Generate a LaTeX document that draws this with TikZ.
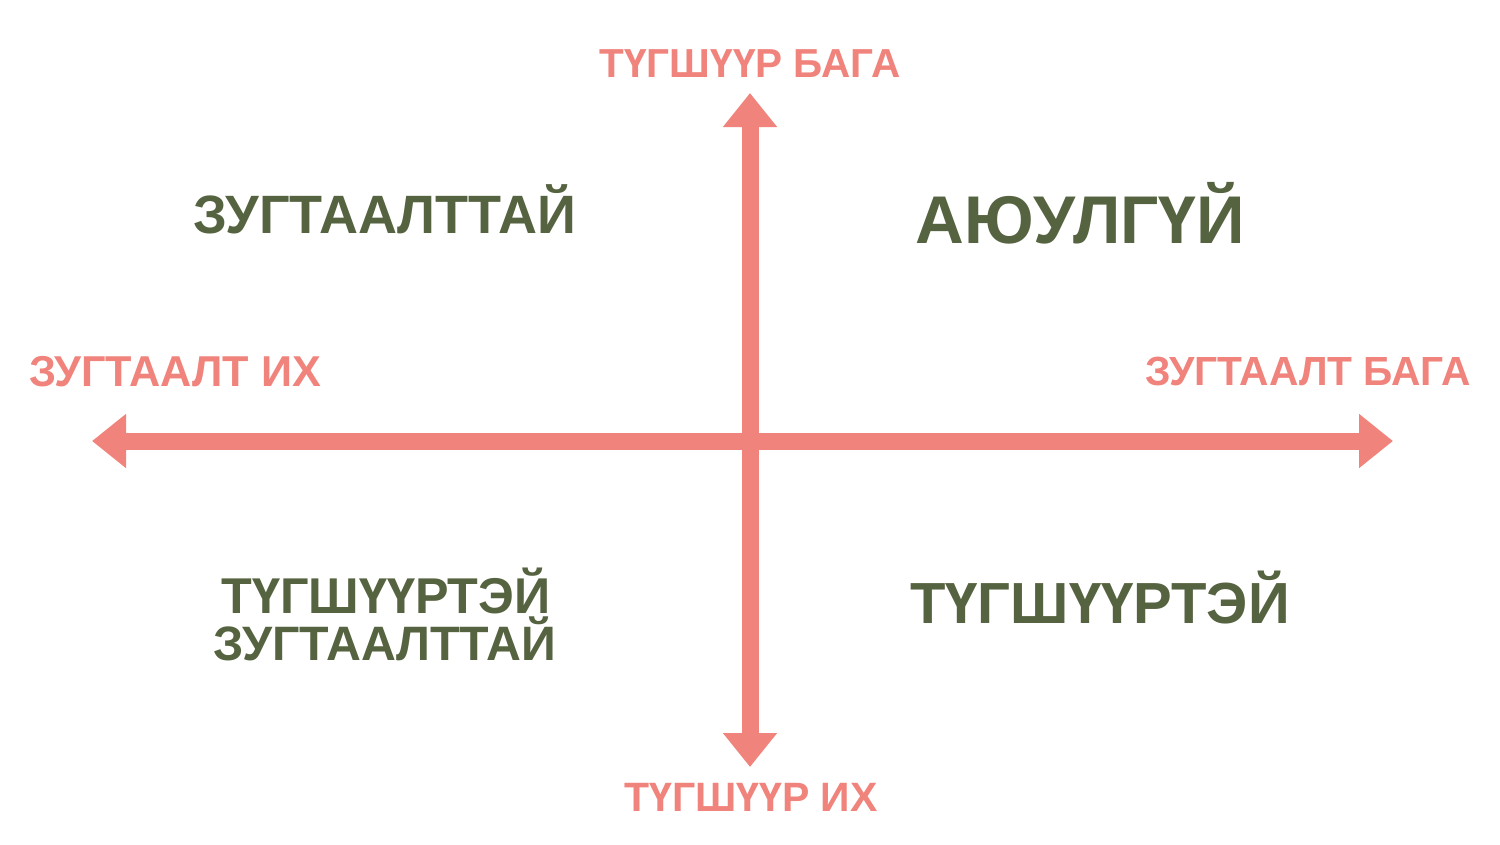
\documentclass[tikz,border=0pt]{standalone}
\usepackage{fontspec}
\setmainfont{Liberation Sans}
\newfontfamily\labfont{Liberation Sans Bold}
\usetikzlibrary{arrows.meta}
\definecolor{salmon}{RGB}{240,131,123}
\definecolor{olive}{RGB}{86,99,64}
\newcommand{\fsz}[1]{\labfont\fontsize{#1}{#1}\selectfont}
\tikzset{
  axis/.style={draw=salmon, line width=17pt, {Triangle[width=52pt,length=34pt]}-{Triangle[width=52pt,length=34pt]}},
  axislabel/.style={text=salmon, inner sep=0pt, anchor=base},
  quadlabel/.style={text=olive, inner sep=0pt, anchor=base},
}
\begin{document}
\begin{tikzpicture}[x=1pt,y=-1pt]
\useasboundingbox (0,0) rectangle (1500,844);
\fill[white] (0,0) rectangle (1500,844);
\coordinate (W) at (92,441);
\coordinate (E) at (1393,441);
\coordinate (N) at (750,93);
\coordinate (S) at (750,767);
\draw[axis] (W) -- (E);
\draw[axis] (N) -- (S);
\node[axislabel, font=\fsz{40.5}] (top) at (750,77) {ТҮГШҮҮР БАГА};
\node[axislabel, font=\fsz{41}] (bottom) at (751,811) {ТҮГШҮҮР ИХ};
\node[axislabel, font=\fsz{43.2}] (left) at (175,386) {ЗУГТААЛТ ИХ};
\node[axislabel, font=\fsz{40.7}] (right) at (1308,385) {ЗУГТААЛТ БАГА};
\node[quadlabel, font=\fsz{54}] (q1) at (385,233) {ЗУГТААЛТТАЙ};
\node[quadlabel, font=\fsz{67.5}] (q2) at (1080,243) {АЮУЛГҮЙ};
\node[quadlabel, font=\fsz{58}] (q4) at (1100,623) {ТҮГШҮҮРТЭЙ};
\node[quadlabel, font=\fsz{50.3}] (q3a) at (386,613) {ТҮГШҮҮРТЭЙ};
\node[quadlabel, font=\fsz{48.3}] (q3b) at (385,660) {ЗУГТААЛТТАЙ};
\end{tikzpicture}
\end{document}
